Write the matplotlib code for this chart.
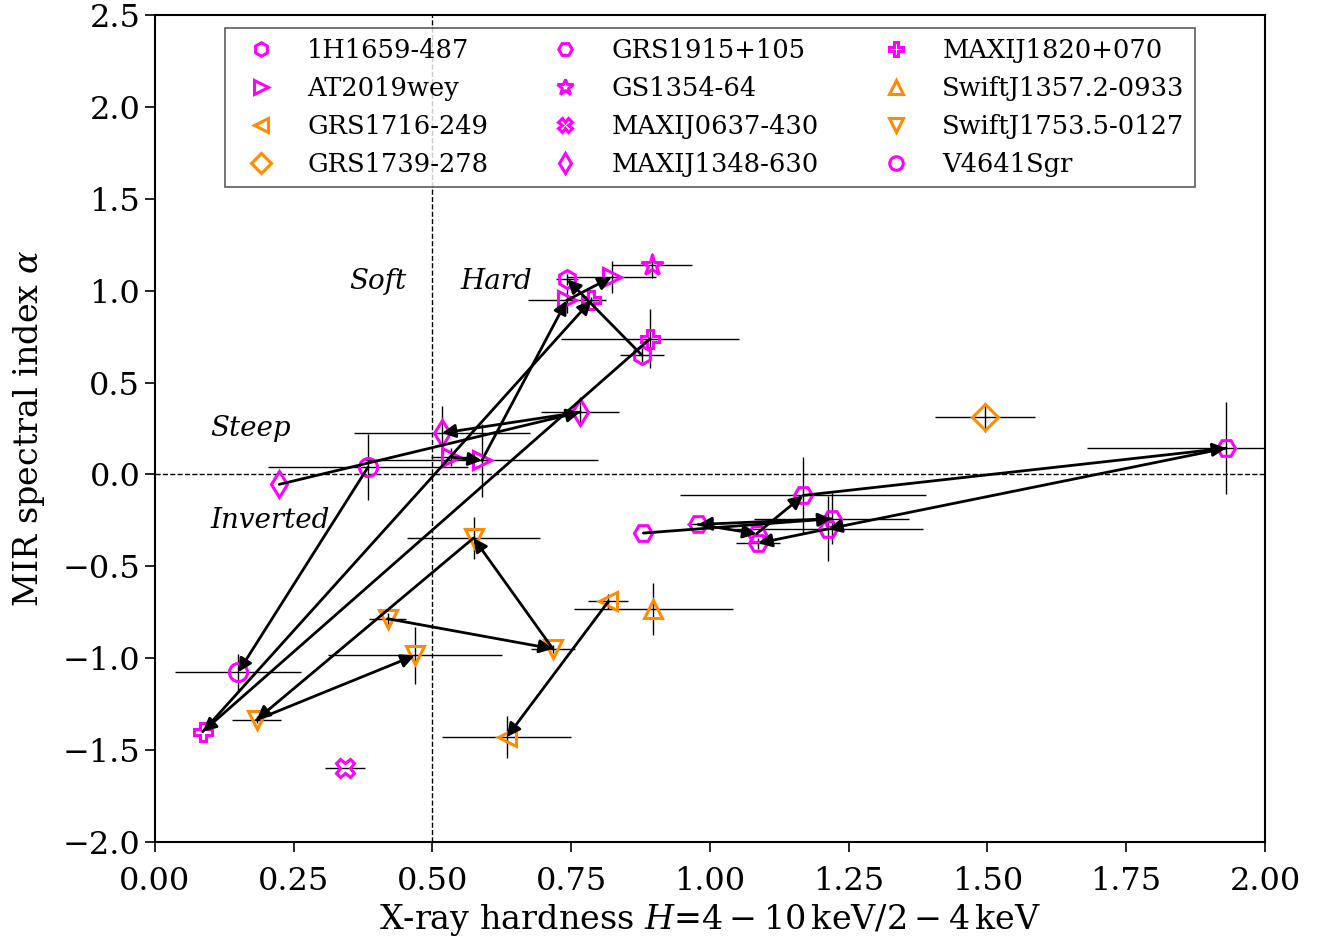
import numpy as np
import matplotlib.pyplot as plt

plt.rcParams['font.family'] = 'DejaVu Serif'
plt.rcParams['mathtext.fontset'] = 'dejavuserif'

MAG = '#ff00ff'
ORA = '#ff8c00'

# each source: time-ordered (hardness, alpha, hardness err, alpha err)
H1659 = [(0.877, 0.650, 0.04, 0.04), (0.743, 1.061, 0.02, 0.03)]
AT2019 = [(0.534, 0.094, 0.036, 0.05), (0.589, 0.076, 0.21, 0.20),
          (0.742, 0.947, 0.07, 0.07), (0.823, 1.074, 0.08, 0.085)]
GRS1716 = [(0.817, -0.691, 0.036, 0.04), (0.634, -1.429, 0.116, 0.115)]
GRS1739 = [(1.495, 0.310, 0.09, 0.08)]
GRS1915 = [(0.880, -0.319, 0.0, 0.0), (1.219, -0.241, 0.14, 0.14),
           (0.979, -0.272, 0.02, 0.0), (1.084, -0.323, 0.0, 0.0),
           (1.168, -0.114, 0.222, 0.21), (1.930, 0.143, 0.25, 0.25),
           (1.213, -0.296, 0.17, 0.177), (1.087, -0.374, 0.04, 0.03)]
GS1354 = [(0.896, 1.137, 0.072, 0.07)]
J0637 = [(0.342, -1.600, 0.036, 0.0)]
J1348 = [(0.224, -0.054, 0.0, 0.0), (0.766, 0.339, 0.07, 0.07),
         (0.517, 0.225, 0.158, 0.15)]
J1820 = [(0.892, 0.738, 0.16, 0.16), (0.086, -1.400, 0.0, 0.0),
         (0.786, 0.947, 0.02, 0.02)]
J1357 = [(0.898, -0.731, 0.143, 0.14)]
J1753 = [(0.419, -0.785, 0.033, 0.03), (0.717, -0.949, 0.04, 0.02),
         (0.574, -0.346, 0.12, 0.115), (0.183, -1.335, 0.044, 0.02),
         (0.468, -0.985, 0.157, 0.155)]
V4641 = [(0.384, 0.040, 0.18, 0.18), (0.150, -1.076, 0.113, 0.10)]

sources = [('1H1659-487', H1659, 'h', MAG),
           ('AT2019wey', AT2019, '>', MAG),
           ('GRS1716-249', GRS1716, '<', ORA),
           ('GRS1739-278', GRS1739, 'D', ORA),
           ('GRS1915+105', GRS1915, 'H', MAG),
           ('GS1354-64', GS1354, '*', MAG),
           ('MAXIJ0637-430', J0637, 'X', MAG),
           ('MAXIJ1348-630', J1348, 'd', MAG),
           ('MAXIJ1820+070', J1820, 'P', MAG),
           ('SwiftJ1357.2-0933', J1357, '^', ORA),
           ('SwiftJ1753.5-0127', J1753, 'v', ORA),
           ('V4641Sgr', V4641, 'o', MAG)]

fig = plt.figure(figsize=(13.21, 9.43), dpi=100)
ax = fig.add_axes([0.1173, 0.1071, 0.8403, 0.877])

for name, pts, mk, col in sources:
    d = np.array(pts)
    x, y, xe, ye = d[:, 0], d[:, 1], d[:, 2], d[:, 3]
    ax.errorbar(x, y, xerr=xe, yerr=ye, fmt='none', ecolor='k',
                elinewidth=1, zorder=2)
    ms = 16 if mk == '*' else 13
    ax.plot(x, y, ls='none', marker=mk, ms=ms, mfc='none', mec=col,
            mew=2.2, label=name, zorder=3)
    # arrows follow the time order of the observations
    for i in range(len(x) - 1):
        ax.annotate('', xy=(x[i + 1], y[i + 1]), xytext=(x[i], y[i]),
                    arrowprops=dict(arrowstyle='-|>', color='k', lw=2,
                                    mutation_scale=20, shrinkA=0, shrinkB=0),
                    zorder=4)

ax.axvline(0.5, color='k', ls='--', lw=1, zorder=1)
ax.axhline(0.0, color='k', ls='--', lw=1, zorder=1)

ax.text(0.35, 1.05, 'Soft', style='italic', fontsize=20, va='center')
ax.text(0.55, 1.05, 'Hard', style='italic', fontsize=20, va='center')
ax.text(0.10, 0.25, 'Steep', style='italic', fontsize=20, va='center')
ax.text(0.10, -0.25, 'Inverted', style='italic', fontsize=20, va='center')

ax.set_xlim(0, 2)
ax.set_ylim(-2, 2.5)
ax.set_xticks(np.arange(0, 2.01, 0.25))
ax.set_yticks(np.arange(-2, 2.51, 0.5))
ax.tick_params(labelsize=23, length=7, width=1.2)
ax.tick_params(axis='x', pad=10)
for s in ax.spines.values():
    s.set_linewidth(1.5)

ax.set_xlabel(r'X-ray hardness $H$=$4-10\,\mathrm{keV}/2-4\,\mathrm{keV}$',
              fontsize=24, labelpad=4)
ax.set_ylabel(r'MIR spectral index $\alpha$', fontsize=24, labelpad=11)

leg = ax.legend(ncol=3, loc='upper center', fontsize=18.5, markerscale=0.75,
                fancybox=False, edgecolor='0.2', columnspacing=2.0)
leg.get_frame().set_linewidth(1.2)

fig.savefig('out.png', dpi=100)
